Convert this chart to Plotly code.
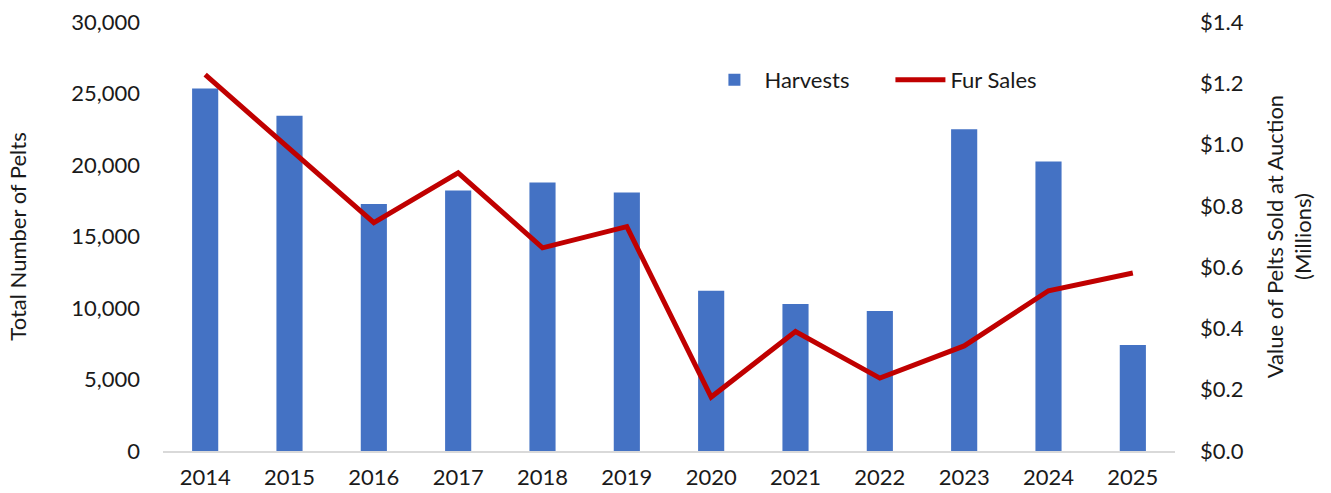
import plotly.graph_objects as go

# Annual pelt harvests and auction fur sales
years = ["2014", "2015", "2016", "2017", "2018", "2019",
         "2020", "2021", "2022", "2023", "2024", "2025"]
harvests = [25350, 23450, 17270, 18220, 18780, 18080,
            11210, 10280, 9790, 22500, 20250, 7410]
fur_sales = [1.228, 0.985, 0.745, 0.908, 0.663, 0.732,
             0.176, 0.390, 0.238, 0.343, 0.523, 0.581]

left_ticks = [0, 5000, 10000, 15000, 20000, 25000, 30000]
right_ticks = [0.0, 0.2, 0.4, 0.6, 0.8, 1.0, 1.2, 1.4]

FONT = "Lato"
TEXT = "#1a1a1a"
FS = 22

fig = go.Figure()
fig.add_trace(go.Bar(
    x=years, y=harvests, name="Harvests",
    marker=dict(color="#4472C4", line=dict(width=0)),
    width=0.31, yaxis="y",
))
fig.add_trace(go.Scatter(
    x=years, y=fur_sales, name="Fur Sales", mode="lines",
    line=dict(color="#C00000", width=5), yaxis="y2",
))

fig.update_layout(
    width=1331, height=493,
    margin=dict(l=163, r=156, t=22, b=42),
    paper_bgcolor="white", plot_bgcolor="white",
    font=dict(family=FONT, size=FS, color=TEXT),
    showlegend=True,
    legend=dict(
        orientation="h", x=0.535, y=0.865, xanchor="left", yanchor="middle",
        font=dict(family=FONT, size=FS, color=TEXT),
        bgcolor="rgba(0,0,0,0)", itemwidth=50, traceorder="normal",
        entrywidth=121, entrywidthmode="pixels",
    ),
    xaxis=dict(
        type="category", showgrid=False, showline=True, automargin=False,
        linecolor="#d9d9d9", linewidth=1.5, ticks="",
        tickfont=dict(family=FONT, size=FS, color=TEXT),
        ticklabelstandoff=6,
    ),
    yaxis=dict(
        range=[0, 30000], tickvals=left_ticks, automargin=False,
        tickformat=",d", showgrid=False, zeroline=False, showline=False,
        ticks="", ticklabelstandoff=22,
        tickfont=dict(family=FONT, size=FS, color=TEXT),
        title=dict(text="Total Number of Pelts",
                   font=dict(family=FONT, size=FS, color=TEXT), standoff=38),
    ),
    yaxis2=dict(
        range=[0, 1.4], tickvals=right_ticks, automargin=False,
        ticktext=[f"${v:.1f}" for v in right_ticks],
        overlaying="y", side="right",
        showgrid=False, zeroline=False, showline=False,
        ticks="", ticklabelstandoff=24,
        tickfont=dict(family=FONT, size=FS, color=TEXT),
        title=dict(text="Value of Pelts Sold at Auction<br>(Millions)",
                   font=dict(family=FONT, size=FS, color=TEXT), standoff=24),
    ),
)

fig.write_html("out.html")
